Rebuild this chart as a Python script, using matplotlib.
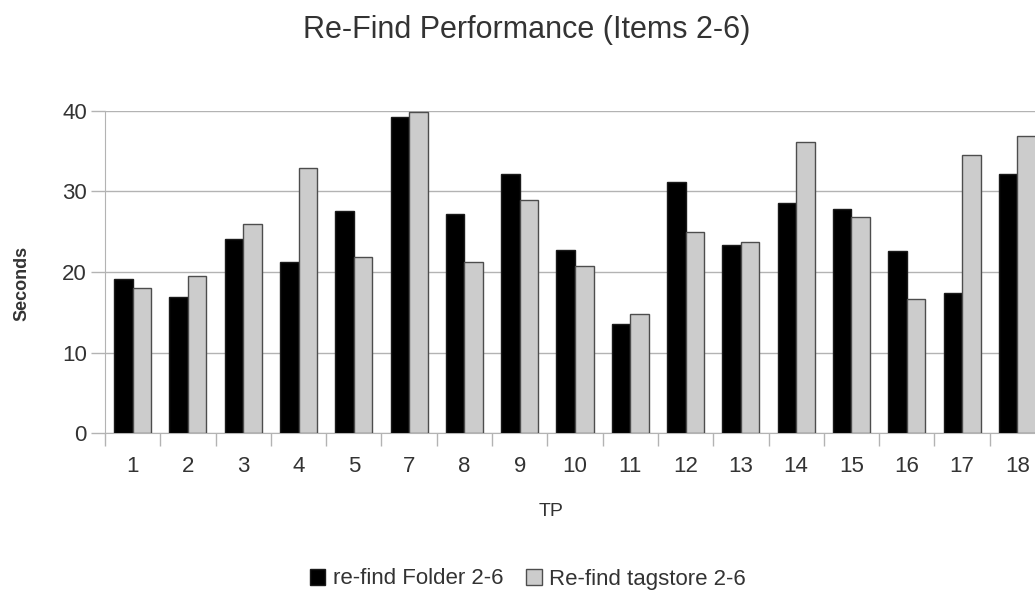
import matplotlib
matplotlib.use("Agg")
import matplotlib.pyplot as plt
import numpy as np

categories = ["1", "2", "3", "4", "5", "7", "8", "9", "10", "11", "12", "13", "14", "15", "16", "17", "18"]
folder = [19.1, 16.9, 24.1, 21.2, 27.6, 39.2, 27.2, 32.1, 22.7, 13.6, 31.1, 23.4, 28.5, 27.8, 22.6, 17.4, 32.2]
tagstore = [18.0, 19.5, 26.0, 32.9, 21.9, 39.8, 21.2, 28.9, 20.7, 14.8, 24.9, 23.7, 36.1, 26.8, 16.6, 34.5, 36.9]
yticks = [0, 10, 20, 30, 40]

plt.rcParams['font.family'] = ['Liberation Sans', 'DejaVu Sans']
txt = '#333333'
grid = '#b3b3b3'

fig = plt.figure(figsize=(10.35, 5.92), dpi=100)
W, H = 1035, 592
left, right = 105, 1045
bottom, top = 433.3, 110.7
ax = fig.add_axes([left / W, 1 - bottom / H, (right - left) / W, (bottom - top) / H])

x = np.arange(len(categories))
bw = 0.335
ax.bar(x - bw / 2, folder, width=bw, color='#000000', edgecolor='#1a1a1a', linewidth=1.0,
       label='re-find Folder 2-6', zorder=3)
ax.bar(x + bw / 2, tagstore, width=bw, color='#cccccc', edgecolor='#4d4d4d', linewidth=1.0,
       label='Re-find tagstore 2-6', zorder=3)

ax.set_xlim(-0.5, len(categories) - 0.5)
ax.set_ylim(0, 40)
ax.set_yticks(yticks)
ax.set_yticklabels([str(v) for v in yticks])
ax.yaxis.grid(True, color=grid, linewidth=1.0, zorder=0)
ax.set_axisbelow(True)

ax.set_xticks(x)
ax.set_xticklabels(categories)
ax.set_xticks(np.arange(len(categories) + 1) - 0.5, minor=True)
ax.tick_params(axis='x', which='major', length=0, pad=16, labelsize=16, labelcolor=txt)
ax.tick_params(axis='x', which='minor', length=9, color=grid, width=1.0)
ax.tick_params(axis='y', which='major', length=10, color=grid, width=1.0, labelsize=16,
               labelcolor=txt, pad=3)

for s in ['top', 'right']:
    ax.spines[s].set_visible(False)
ax.spines['left'].set_color(grid)
ax.spines['bottom'].set_color(grid)

fig.text(527 / W, 1 - 30 / H, 'Re-Find Performance (Items 2-6)', ha='center', va='center',
         fontsize=22, color=txt)
fig.text(22 / W, 1 - 283 / H, 'Seconds', rotation=90, ha='center', va='center',
         fontsize=13, fontweight='bold', color=txt)
fig.text(551 / W, 1 - 512 / H, 'TP', ha='center', va='center', fontsize=14, color=txt)

fig.legend(loc='center', bbox_to_anchor=(528 / W, 1 - 579 / H), ncol=2, frameon=False,
           fontsize=16, handlelength=0.7, handleheight=0.7, handletextpad=0.35,
           columnspacing=1.0, labelcolor=txt, borderaxespad=0)

fig.savefig('out.png', dpi=100)
